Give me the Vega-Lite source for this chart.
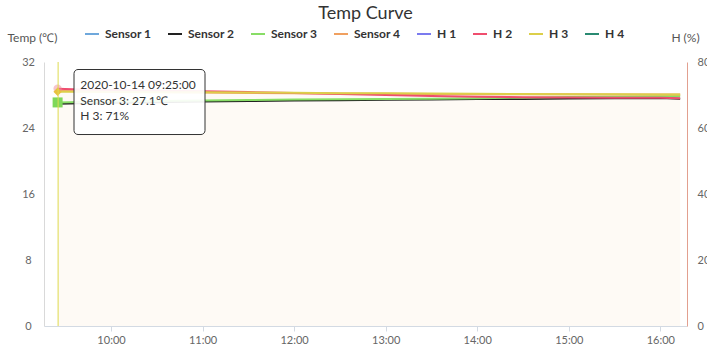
{
  "$schema": "https://vega.github.io/schema/vega-lite/v6.json",
  "width": 643,
  "height": 264,
  "padding": {"left": 6, "top": 5, "right": 0, "bottom": 0},
  "background": "white",
  "title": {"text": "Temp Curve", "fontSize": 18, "fontWeight": "normal", "color": "#333", "anchor": "middle", "offset": 3},
  "data": {"values": [
      {"t": "2020-10-14T09:25:00", "series": "Sensor 2", "kind": "T", "value": 26.95},
      {"t": "2020-10-14T09:40:00", "series": "Sensor 2", "kind": "T", "value": 27.0},
      {"t": "2020-10-14T10:00:00", "series": "Sensor 2", "kind": "T", "value": 27.05},
      {"t": "2020-10-14T10:30:00", "series": "Sensor 2", "kind": "T", "value": 27.12},
      {"t": "2020-10-14T11:00:00", "series": "Sensor 2", "kind": "T", "value": 27.2},
      {"t": "2020-10-14T11:30:00", "series": "Sensor 2", "kind": "T", "value": 27.27},
      {"t": "2020-10-14T12:00:00", "series": "Sensor 2", "kind": "T", "value": 27.32},
      {"t": "2020-10-14T12:30:00", "series": "Sensor 2", "kind": "T", "value": 27.37},
      {"t": "2020-10-14T13:00:00", "series": "Sensor 2", "kind": "T", "value": 27.42},
      {"t": "2020-10-14T13:30:00", "series": "Sensor 2", "kind": "T", "value": 27.45},
      {"t": "2020-10-14T14:00:00", "series": "Sensor 2", "kind": "T", "value": 27.5},
      {"t": "2020-10-14T14:30:00", "series": "Sensor 2", "kind": "T", "value": 27.53},
      {"t": "2020-10-14T15:00:00", "series": "Sensor 2", "kind": "T", "value": 27.58},
      {"t": "2020-10-14T15:30:00", "series": "Sensor 2", "kind": "T", "value": 27.6},
      {"t": "2020-10-14T16:00:00", "series": "Sensor 2", "kind": "T", "value": 27.63},
      {"t": "2020-10-14T16:13:00", "series": "Sensor 2", "kind": "T", "value": 27.55},
      {"t": "2020-10-14T09:25:00", "series": "Sensor 3", "kind": "T", "value": 27.1},
      {"t": "2020-10-14T09:40:00", "series": "Sensor 3", "kind": "T", "value": 27.15},
      {"t": "2020-10-14T10:00:00", "series": "Sensor 3", "kind": "T", "value": 27.2},
      {"t": "2020-10-14T10:30:00", "series": "Sensor 3", "kind": "T", "value": 27.27},
      {"t": "2020-10-14T11:00:00", "series": "Sensor 3", "kind": "T", "value": 27.33},
      {"t": "2020-10-14T11:30:00", "series": "Sensor 3", "kind": "T", "value": 27.4},
      {"t": "2020-10-14T12:00:00", "series": "Sensor 3", "kind": "T", "value": 27.45},
      {"t": "2020-10-14T12:30:00", "series": "Sensor 3", "kind": "T", "value": 27.48},
      {"t": "2020-10-14T13:00:00", "series": "Sensor 3", "kind": "T", "value": 27.52},
      {"t": "2020-10-14T13:30:00", "series": "Sensor 3", "kind": "T", "value": 27.55},
      {"t": "2020-10-14T14:00:00", "series": "Sensor 3", "kind": "T", "value": 27.6},
      {"t": "2020-10-14T14:30:00", "series": "Sensor 3", "kind": "T", "value": 27.68},
      {"t": "2020-10-14T15:00:00", "series": "Sensor 3", "kind": "T", "value": 27.75},
      {"t": "2020-10-14T15:30:00", "series": "Sensor 3", "kind": "T", "value": 27.8},
      {"t": "2020-10-14T16:00:00", "series": "Sensor 3", "kind": "T", "value": 27.86},
      {"t": "2020-10-14T16:13:00", "series": "Sensor 3", "kind": "T", "value": 27.88},
      {"t": "2020-10-14T09:25:00", "series": "Sensor 4", "kind": "T", "value": 28.5},
      {"t": "2020-10-14T09:40:00", "series": "Sensor 4", "kind": "T", "value": 28.46},
      {"t": "2020-10-14T10:00:00", "series": "Sensor 4", "kind": "T", "value": 28.42},
      {"t": "2020-10-14T10:30:00", "series": "Sensor 4", "kind": "T", "value": 28.36},
      {"t": "2020-10-14T11:00:00", "series": "Sensor 4", "kind": "T", "value": 28.3},
      {"t": "2020-10-14T11:30:00", "series": "Sensor 4", "kind": "T", "value": 28.24},
      {"t": "2020-10-14T12:00:00", "series": "Sensor 4", "kind": "T", "value": 28.2},
      {"t": "2020-10-14T12:30:00", "series": "Sensor 4", "kind": "T", "value": 28.17},
      {"t": "2020-10-14T13:00:00", "series": "Sensor 4", "kind": "T", "value": 28.14},
      {"t": "2020-10-14T13:30:00", "series": "Sensor 4", "kind": "T", "value": 28.12},
      {"t": "2020-10-14T14:00:00", "series": "Sensor 4", "kind": "T", "value": 28.1},
      {"t": "2020-10-14T14:30:00", "series": "Sensor 4", "kind": "T", "value": 28.09},
      {"t": "2020-10-14T15:00:00", "series": "Sensor 4", "kind": "T", "value": 28.08},
      {"t": "2020-10-14T15:30:00", "series": "Sensor 4", "kind": "T", "value": 28.07},
      {"t": "2020-10-14T16:00:00", "series": "Sensor 4", "kind": "T", "value": 28.06},
      {"t": "2020-10-14T16:13:00", "series": "Sensor 4", "kind": "T", "value": 28.06},
      {"t": "2020-10-14T09:25:00", "series": "H 2", "kind": "H", "value": 71.9},
      {"t": "2020-10-14T09:40:00", "series": "H 2", "kind": "H", "value": 71.7},
      {"t": "2020-10-14T10:00:00", "series": "H 2", "kind": "H", "value": 71.5},
      {"t": "2020-10-14T10:30:00", "series": "H 2", "kind": "H", "value": 71.3},
      {"t": "2020-10-14T11:00:00", "series": "H 2", "kind": "H", "value": 71.1},
      {"t": "2020-10-14T11:30:00", "series": "H 2", "kind": "H", "value": 70.9},
      {"t": "2020-10-14T12:00:00", "series": "H 2", "kind": "H", "value": 70.6},
      {"t": "2020-10-14T12:30:00", "series": "H 2", "kind": "H", "value": 70.3},
      {"t": "2020-10-14T13:00:00", "series": "H 2", "kind": "H", "value": 70.0},
      {"t": "2020-10-14T13:30:00", "series": "H 2", "kind": "H", "value": 69.7},
      {"t": "2020-10-14T14:00:00", "series": "H 2", "kind": "H", "value": 69.5},
      {"t": "2020-10-14T14:30:00", "series": "H 2", "kind": "H", "value": 69.35},
      {"t": "2020-10-14T15:00:00", "series": "H 2", "kind": "H", "value": 69.25},
      {"t": "2020-10-14T15:30:00", "series": "H 2", "kind": "H", "value": 69.2},
      {"t": "2020-10-14T16:00:00", "series": "H 2", "kind": "H", "value": 69.15},
      {"t": "2020-10-14T16:13:00", "series": "H 2", "kind": "H", "value": 69.0},
      {"t": "2020-10-14T09:25:00", "series": "H 3", "kind": "H", "value": 71.0},
      {"t": "2020-10-14T09:40:00", "series": "H 3", "kind": "H", "value": 70.95},
      {"t": "2020-10-14T10:00:00", "series": "H 3", "kind": "H", "value": 70.9},
      {"t": "2020-10-14T10:30:00", "series": "H 3", "kind": "H", "value": 70.85},
      {"t": "2020-10-14T11:00:00", "series": "H 3", "kind": "H", "value": 70.8},
      {"t": "2020-10-14T11:30:00", "series": "H 3", "kind": "H", "value": 70.75},
      {"t": "2020-10-14T12:00:00", "series": "H 3", "kind": "H", "value": 70.65},
      {"t": "2020-10-14T12:30:00", "series": "H 3", "kind": "H", "value": 70.55},
      {"t": "2020-10-14T13:00:00", "series": "H 3", "kind": "H", "value": 70.5},
      {"t": "2020-10-14T13:30:00", "series": "H 3", "kind": "H", "value": 70.45},
      {"t": "2020-10-14T14:00:00", "series": "H 3", "kind": "H", "value": 70.4},
      {"t": "2020-10-14T14:30:00", "series": "H 3", "kind": "H", "value": 70.3},
      {"t": "2020-10-14T15:00:00", "series": "H 3", "kind": "H", "value": 70.25},
      {"t": "2020-10-14T15:30:00", "series": "H 3", "kind": "H", "value": 70.2},
      {"t": "2020-10-14T16:00:00", "series": "H 3", "kind": "H", "value": 70.15},
      {"t": "2020-10-14T16:13:00", "series": "H 3", "kind": "H", "value": 70.15}
  ]},
  "layer": [
    {
      "transform": [{"filter": "datum.series == 'Sensor 4'"}],
      "mark": {"type": "area", "color": "#f3a35a", "opacity": 0.06},
      "encoding": {
        "x": {"field": "t", "type": "temporal",
          "scale": {"domain": [
            {"year": 2020, "month": 10, "date": 14, "hours": 9, "minutes": 16, "seconds": 5},
            {"year": 2020, "month": 10, "date": 14, "hours": 16, "minutes": 17, "seconds": 29}
          ]},
          "axis": {"title": null, "format": "%H:%M", "tickCount": 7, "domainColor": "#d3dae3", "tickColor": "#d3dae3", "tickSize": 5, "labelPadding": 3, "labelFlush": false}},
        "y": {"field": "value", "type": "quantitative", "scale": {"domain": [0, 32]},
          "axis": {"title": "Temp (℃)", "values": [0, 8, 16, 24, 32], "ticks": false, "labelPadding": 16, "labelAlign": "center", "domainColor": "#d9d9d9", "titleAngle": 0, "titleX": -12, "titleY": -25, "titleAlign": "center", "titleBaseline": "middle"}}
      }
    },
    {
      "transform": [{"filter": "datum.kind == 'T'"}],
      "mark": {"type": "line", "strokeWidth": 2},
      "encoding": {
        "x": {"field": "t", "type": "temporal"},
        "y": {"field": "value", "type": "quantitative", "scale": {"domain": [0, 32]}, "axis": null},
        "color": {
          "field": "series", "type": "nominal",
          "scale": {
            "domain": ["Sensor 1", "Sensor 2", "Sensor 3", "Sensor 4", "H 1", "H 2", "H 3", "H 4"],
            "range": ["#6fa8dc", "#222222", "#88dd66", "#f0a060", "#7b7bef", "#ef4d6e", "#dccf4a", "#2a8a72"]
          },
          "legend": {"orient": "none", "legendX": 40, "legendY": -36, "direction": "horizontal", "title": null}
        }
      }
    },
    {
      "transform": [{"filter": "datum.series == 'Sensor 3' && hours(datum.t) == 9 && minutes(datum.t) == 25"}],
      "mark": {"type": "point", "shape": "square", "size": 100, "filled": true, "color": "#7ed85a", "opacity": 1},
      "encoding": {
        "x": {"field": "t", "type": "temporal"},
        "y": {"field": "value", "type": "quantitative", "scale": {"domain": [0, 32]}, "axis": null}
      }
    },
    {
      "transform": [{"filter": "datum.kind == 'H'"}],
      "mark": {"type": "line", "strokeWidth": 2},
      "encoding": {
        "x": {"field": "t", "type": "temporal"},
        "y": {"field": "value", "type": "quantitative", "scale": {"domain": [0, 80]},
          "axis": {"orient": "right", "title": "H (%)", "values": [0, 20, 40, 60, 80], "ticks": false, "labelPadding": 10, "domainColor": "#e2a090", "titleAngle": 0, "titleX": -2, "titleY": -25, "titleAlign": "center", "titleBaseline": "middle"}},
        "color": {"field": "series", "type": "nominal"}
      }
    },
    {
      "transform": [{"filter": "datum.series == 'H 2' && hours(datum.t) == 9 && minutes(datum.t) == 25"}],
      "mark": {"type": "point", "shape": "circle", "size": 70, "filled": true, "color": "#f08a9a", "opacity": 0.5},
      "encoding": {
        "x": {"field": "t", "type": "temporal"},
        "y": {"field": "value", "type": "quantitative", "scale": {"domain": [0, 80]}, "axis": null}
      }
    },
    {
      "transform": [{"filter": "datum.series == 'H 3' && hours(datum.t) == 9 && minutes(datum.t) == 25"}],
      "mark": {"type": "point", "shape": "diamond", "size": 70, "filled": true, "color": "#e8c040", "opacity": 1},
      "encoding": {
        "x": {"field": "t", "type": "temporal"},
        "y": {"field": "value", "type": "quantitative", "scale": {"domain": [0, 80]}, "axis": null}
      }
    },
    {
      "data": {"values": [{"t": "2020-10-14T09:25:20"}]},
      "mark": {"type": "rule", "color": "#dedc50", "strokeWidth": 1},
      "encoding": {
        "x": {"field": "t", "type": "temporal"}
      }
    },
    {
      "data": {"values": [{"t0": "2020-10-14T09:35:45", "t1": "2020-10-14T11:01:36", "top": 31.09, "bottom": 23.21}]},
      "mark": {"type": "rect", "fill": "white", "fillOpacity": 0.92, "stroke": "#333", "strokeWidth": 1, "cornerRadius": 4},
      "encoding": {
        "x": {"field": "t0", "type": "temporal"},
        "x2": {"field": "t1"},
        "y": {"field": "top", "type": "quantitative", "scale": {"domain": [0, 32]}, "axis": null},
        "y2": {"field": "bottom"}
      }
    },
    {
      "data": {"values": [
        {"t": "2020-10-14T09:39:53", "v": 29.27, "label": "2020-10-14 09:25:00"},
        {"t": "2020-10-14T09:39:53", "v": 27.25, "label": "Sensor 3:  27.1℃"},
        {"t": "2020-10-14T09:39:53", "v": 25.43, "label": "H 3:  71%"}
      ]},
      "mark": {"type": "text", "align": "left", "baseline": "middle", "fontSize": 12, "color": "#333"},
      "encoding": {
        "x": {"field": "t", "type": "temporal"},
        "y": {"field": "v", "type": "quantitative", "scale": {"domain": [0, 32]}, "axis": null},
        "text": {"field": "label"}
      }
    }
  ],
  "resolve": {"scale": {"y": "independent"}},
  "config": {
    "font": "Lato",
    "view": {"stroke": null},
    "axis": {"grid": false, "labelFontSize": 11, "labelColor": "#666", "titleFontWeight": "normal", "titleFontSize": 12, "titleColor": "#555"},
    "legend": {"symbolType": "stroke", "symbolStrokeWidth": 2, "symbolSize": 196, "labelFontWeight": "bold", "labelFontSize": 12, "labelColor": "#333", "columnPadding": 12, "labelOffset": 5}
  }
}
